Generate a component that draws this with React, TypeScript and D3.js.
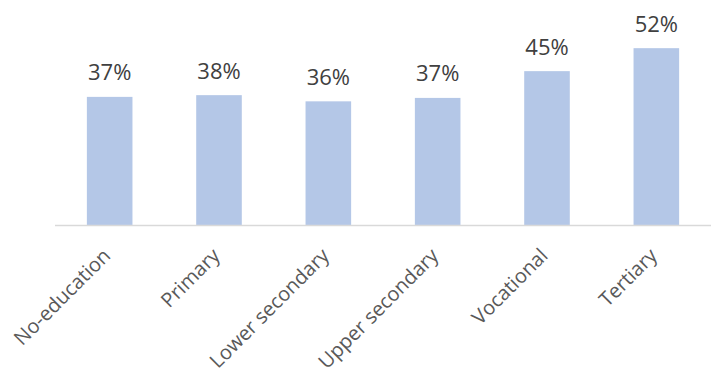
import React from "react";
import * as d3 from "d3";

const categories = ["No-education", "Primary", "Lower secondary", "Upper secondary", "Vocational", "Tertiary"];
const values = [37.5, 38, 36.2, 37.2, 45, 51.7];
const valueLabels = ["37%", "38%", "36%", "37%", "45%", "52%"];

const W = 712;
const H = 373;
const baseY = 225.5;

export default function App() {
  const x = d3.scaleBand<string>().domain(categories).range([55, 711]).paddingInner(0.583).paddingOuter(0.2915);
  const y = d3.scaleLinear().domain([0, 60]).range([baseY, baseY - 60 * 3.43]);
  const font = "'Open Sans', 'Segoe UI', sans-serif";
  return (
    <svg width={W} height={H} style={{ position: "absolute", left: 0, top: 0 }}>
      <rect width={W} height={H} fill="#fff" />
      {categories.map((c, i) => (
        <rect key={c} x={x(c)!} y={y(values[i])} width={x.bandwidth()} height={baseY - y(values[i])} fill="#B4C7E7" />
      ))}
      <line x1={55} x2={711} y1={baseY} y2={baseY} stroke="#D9D9D9" strokeWidth={1.5} />
      {categories.map((c, i) => (
        <text key={c + "v"} x={x(c)! + x.bandwidth() / 2} y={y(values[i]) - 16.5} textAnchor="middle"
          fontFamily={font} fontSize={22} fill="#404040">{valueLabels[i]}</text>
      ))}
      {categories.map((c) => {
        const cx = x(c)! + x.bandwidth() / 2 + 2;
        const cy = 257;
        return (
          <text key={c + "l"} x={cx} y={cy} transform={`rotate(-45, ${cx}, ${cy})`} textAnchor="end"
            fontFamily={font} fontSize={20} fill="#595959">{c}</text>
        );
      })}
    </svg>
  );
}
